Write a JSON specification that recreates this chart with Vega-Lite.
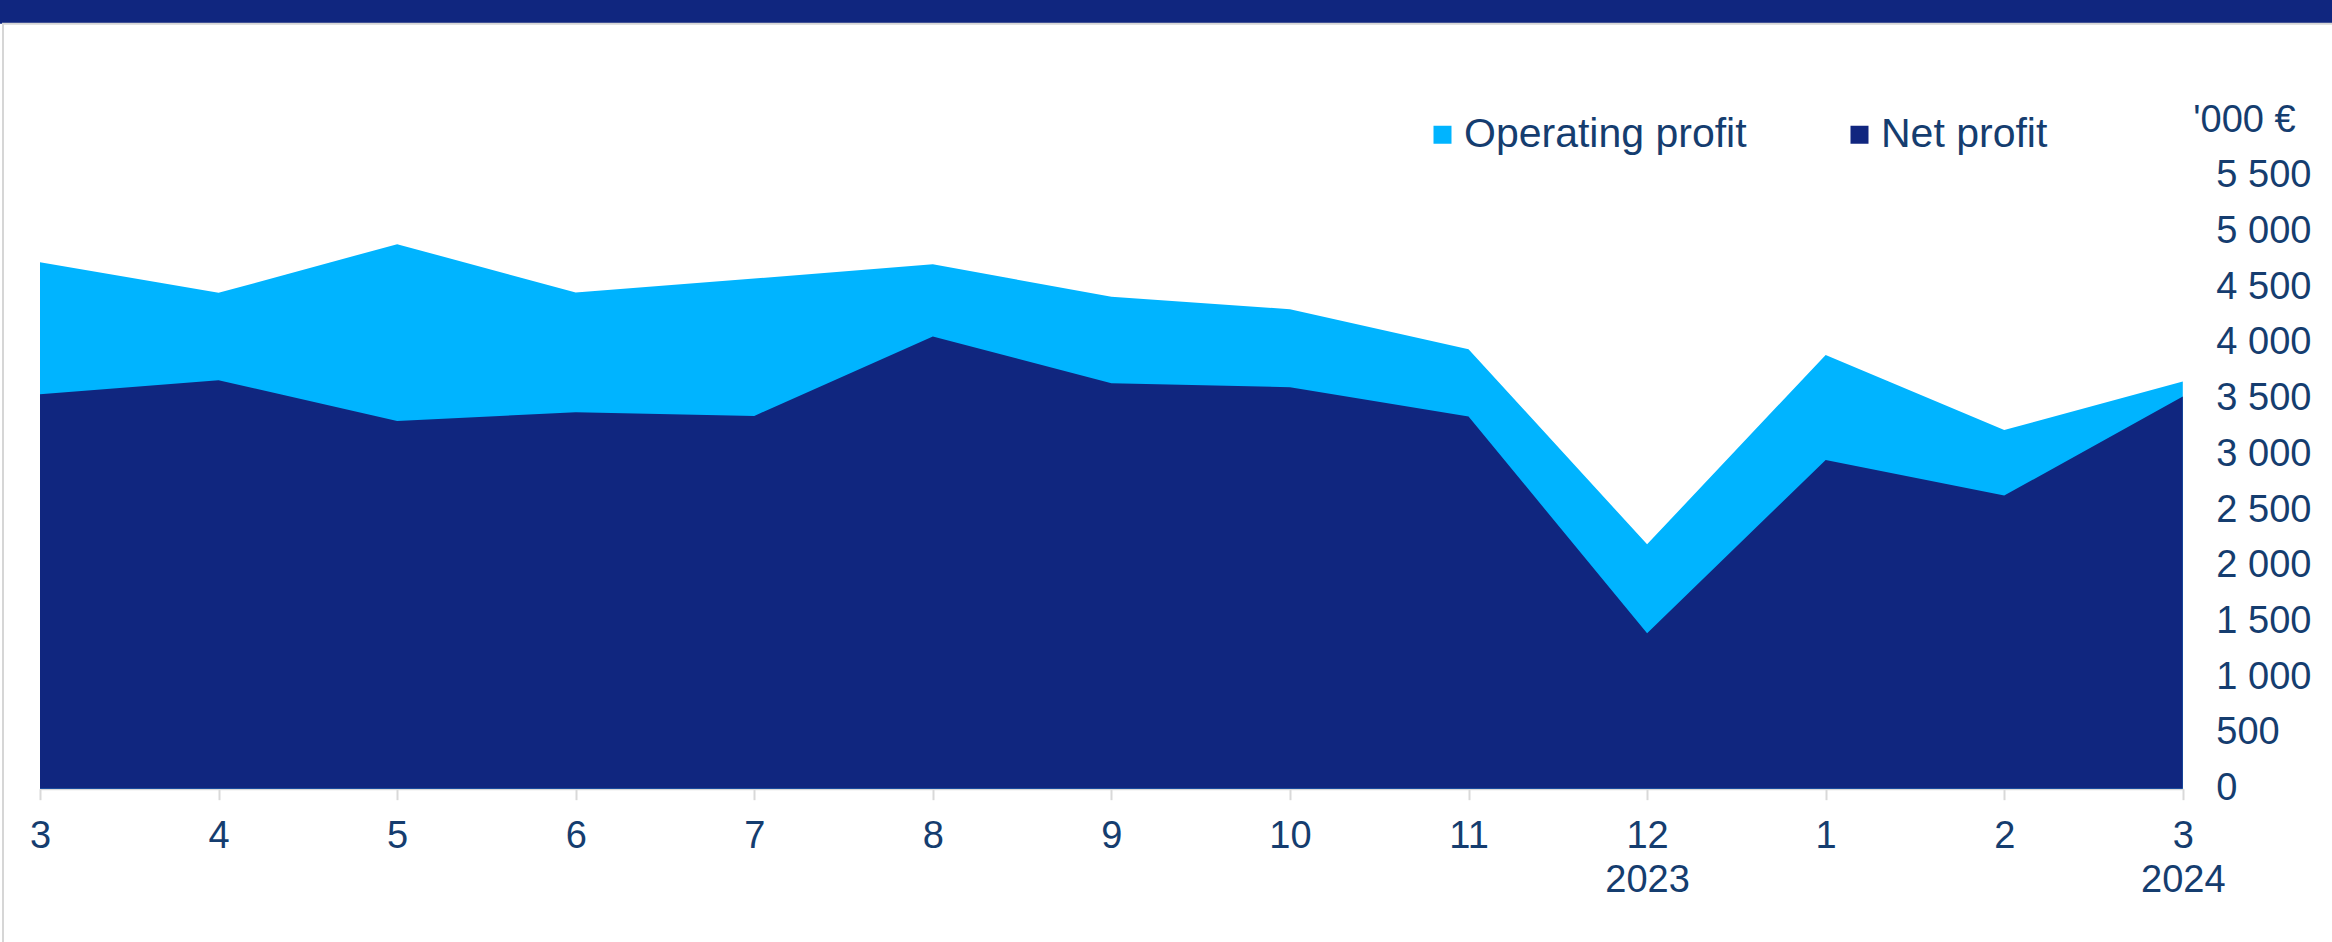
{
  "$schema": "https://vega.github.io/schema/vega-lite/v6.json",
  "width": 2142.8,
  "height": 668.7,
  "autosize": {"type": "none"},
  "padding": {"left": 40, "top": 120, "right": 149.2, "bottom": 153.3},
  "background": "white",
  "config": {"view": {"stroke": null}, "font": "Liberation Sans"},
  "title": {
    "text": "Monthly profit",
    "color": "white",
    "font": "Liberation Sans",
    "fontSize": 80,
    "fontWeight": "normal",
    "anchor": "middle",
    "frame": "group",
    "baseline": "alphabetic",
    "offset": 0,
    "dy": -132,
    "dx": 70
  },
  "resolve": {"scale": {"x": "independent"}, "axis": {"x": "independent"}},
  "layer": [
    {
      "data": {"values": [{"part": "header"}]},
      "mark": {"type": "rect", "clip": false, "fill": "#10267F"},
      "encoding": {
        "x": {"datum": -0.05, "type": "quantitative", "scale": {"domain": [0, 1], "nice": false, "zero": false}, "axis": null},
        "x2": {"datum": 1.2},
        "y": {"datum": 6863, "type": "quantitative"},
        "y2": {"datum": 7400}
      }
    },
    {
      "data": {"values": [{"part": "frame"}]},
      "mark": {"type": "rect", "clip": false, "fill": null, "stroke": "#d6d6d6", "strokeWidth": 2},
      "encoding": {
        "x": {"datum": -0.01727, "type": "quantitative", "scale": {"domain": [0, 1], "nice": false, "zero": false}, "axis": null},
        "x2": {"datum": 1.3},
        "y": {"datum": -1600, "type": "quantitative"},
        "y2": {"datum": 6863}
      }
    },
    {
      "data": {
        "values": [
          {"period": "2023-03", "operating": 4724, "net": 3540},
          {"period": "2023-04", "operating": 4449, "net": 3665},
          {"period": "2023-05", "operating": 4886, "net": 3300},
          {"period": "2023-06", "operating": 4452, "net": 3378},
          {"period": "2023-07", "operating": 4577, "net": 3345},
          {"period": "2023-08", "operating": 4706, "net": 4057},
          {"period": "2023-09", "operating": 4413, "net": 3638},
          {"period": "2023-10", "operating": 4302, "net": 3602},
          {"period": "2023-11", "operating": 3943, "net": 3339},
          {"period": "2023-12", "operating": 2193, "net": 1395},
          {"period": "2024-01", "operating": 3892, "net": 2950},
          {"period": "2024-02", "operating": 3219, "net": 2630},
          {"period": "2024-03", "operating": 3653, "net": 3518}
        ]
      },
      "encoding": {
        "x": {
          "field": "period",
          "type": "ordinal",
          "sort": null,
          "scale": {"type": "point", "padding": 0},
          "axis": {
            "title": null,
            "labelAngle": 0,
            "labelExpr": "datum.value == '2023-12' ? ['12', '2023'] : datum.value == '2024-03' ? ['3', '2024'] : '' + toNumber(slice(datum.value, 5))",
            "labelFontSize": 38,
            "labelColor": "#153d6f",
            "labelFont": "Liberation Sans",
            "labelLineHeight": 44,
            "labelPadding": 18,
            "labelBaseline": "top",
            "domainColor": "#d9d9d9",
            "domainWidth": 2,
            "tickColor": "#d9d9d9",
            "tickWidth": 2,
            "tickSize": 11,
            "grid": false
          }
        }
      },
      "layer": [
        {
          "mark": {"type": "area", "interpolate": "linear"},
          "encoding": {
            "y": {
              "field": "operating",
              "type": "quantitative",
              "scale": {"domain": [0, 6000], "nice": false, "zero": true},
              "axis": {
                "orient": "right",
                "title": null,
                "values": [0, 500, 1000, 1500, 2000, 2500, 3000, 3500, 4000, 4500, 5000, 5500, 6000],
                "labelExpr": "datum.value == 6000 ? \"'000 €\" : replace(format(datum.value, ','), ',', ' ')",
                "labelFontSize": 38,
                "labelColor": "#153d6f",
                "labelFont": "Liberation Sans",
                "labelAlign": "left",
                "labelBaseline": "middle",
                "labelPadding": {"condition": {"test": "datum.value == 6000", "value": 10}, "value": 33},
                "ticks": false,
                "tickSize": 0,
                "domain": false,
                "grid": false,
                "labelOverlap": false,
                "labelFlush": false
              }
            },
            "color": {
              "datum": "Operating profit",
              "type": "nominal",
              "scale": {"domain": ["Operating profit", "Net profit"], "range": ["#00B4FF", "#10267F"]},
              "legend": {
                "title": null,
                "orient": "none",
                "legendX": 1382,
                "legendY": -6,
                "direction": "horizontal",
                "symbolType": "square",
                "symbolSize": 324,
                "symbolStrokeWidth": 0,
                "labelFontSize": 41,
                "labelFont": "Liberation Sans",
                "labelColor": "#153d6f",
                "labelOffset": 1,
                "labelLimit": 0,
                "columnPadding": 92,
                "padding": 0
              }
            }
          }
        },
        {
          "mark": {"type": "area", "interpolate": "linear"},
          "encoding": {
            "y": {"field": "net", "type": "quantitative"},
            "color": {"datum": "Net profit", "type": "nominal"}
          }
        }
      ]
    }
  ]
}
